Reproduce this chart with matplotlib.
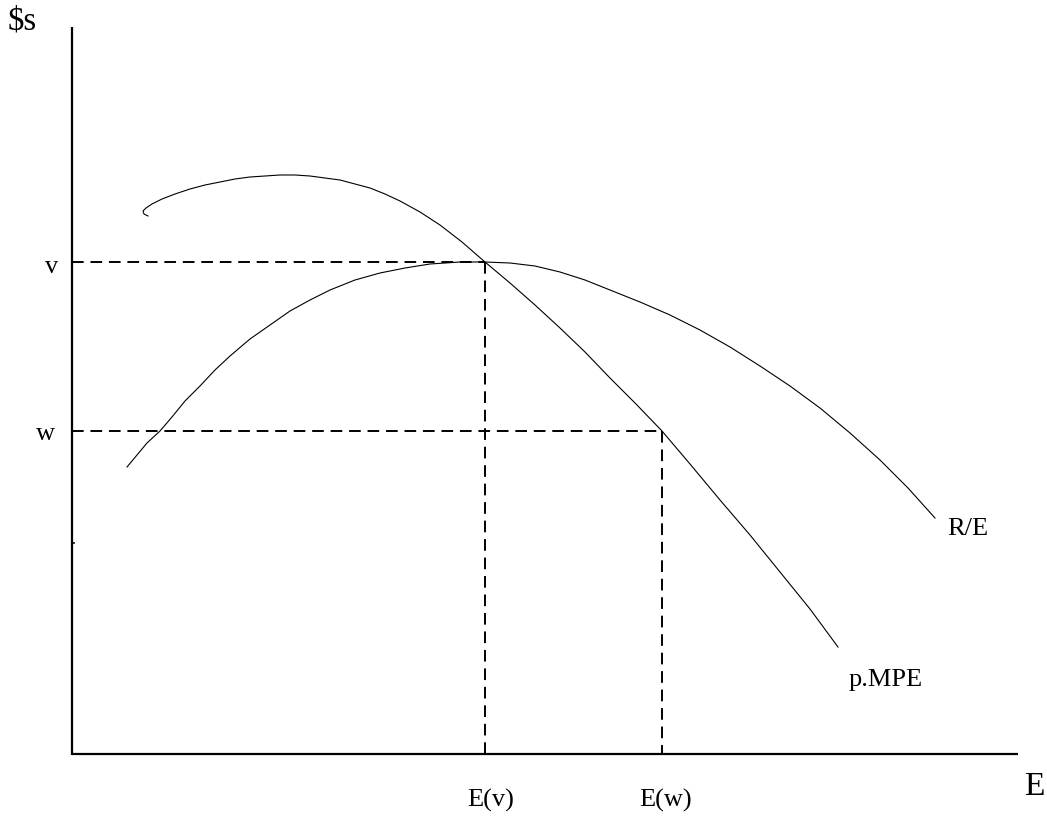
import matplotlib.pyplot as plt

# Points (pixel-like units, y downward)
re_x = [127, 137, 147, 160, 172, 185, 200, 215, 230, 250, 270, 290, 310, 330, 355, 380, 405, 430, 460, 485, 510, 535, 560, 585, 610, 640, 670, 700, 730, 760, 790, 820, 850, 880, 908, 935]
re_y = [467, 455, 443, 431, 417, 401, 386, 370, 356, 339, 325, 311, 300, 290, 280, 273, 268, 264, 262, 262, 263, 266, 272, 280, 290, 302, 315, 330, 347, 366, 386, 408, 433, 460, 488, 518]

mpe_x = [148, 144, 143, 146, 152, 162, 175, 190, 205, 220, 235, 250, 265, 280, 295, 310, 325, 340, 355, 370, 385, 400, 420, 440, 462, 485, 510, 535, 560, 585, 610, 636, 662, 690, 720, 750, 780, 810, 838]
mpe_y = [216, 214, 211, 208, 204, 199, 194, 189, 185, 182, 179, 177, 176, 175, 175, 176, 178, 180, 184, 188, 194, 201, 212, 225, 242, 262, 283, 305, 328, 352, 378, 404, 431, 464, 500, 535, 572, 609, 647]

v_level, w_level = 262, 431
ev_x, ew_x = 485, 662
x0, y0 = 72, 754

fig = plt.figure(figsize=(10.47, 8.17), dpi=100)
ax = fig.add_axes([0, 0, 1, 1])
ax.set_xlim(0, 1047)
ax.set_ylim(817, 0)
ax.axis('off')

serif = ['Liberation Serif', 'DejaVu Serif']

# axes
ax.plot([x0, x0], [27, y0 + 1], color='black', lw=1.6, solid_capstyle='butt')
ax.plot([x0, 1018], [y0, y0], color='black', lw=1.6, solid_capstyle='butt')
ax.plot([x0, x0 + 2], [543, 543], color='black', lw=1.2)

# curves
ax.plot(re_x, re_y, color='black', lw=0.8)
ax.plot(mpe_x, mpe_y, color='black', lw=0.8)

# dashed guides
dash = dict(color='black', lw=1.4, dashes=(6, 3.5))
ax.plot([x0, ev_x], [v_level, v_level], **dash)
ax.plot([ev_x, ev_x], [v_level, y0], **dash)
ax.plot([x0, ew_x], [w_level, w_level], **dash)
ax.plot([ew_x, ew_x], [w_level, y0], **dash)

# labels
ax.text(8, 21, '$s', fontsize=23.5, family=serif, va='center', ha='left')
ax.text(1044, 787, 'E', fontsize=24, family=serif, va='center', ha='right')
ax.text(58, 267, 'v', fontsize=19, family=serif, va='center', ha='right')
ax.text(55, 434, 'w', fontsize=19, family=serif, va='center', ha='right')
ax.text(491, 800, 'E(v)', fontsize=19, family=serif, va='center', ha='center')
ax.text(666, 800, 'E(w)', fontsize=19, family=serif, va='center', ha='center')
ax.text(947, 529, 'R/E', fontsize=19, family=serif, va='center', ha='left')
ax.text(849, 680, 'p.MPE', fontsize=19, family=serif, va='center', ha='left')

fig.savefig('out.png', dpi=100)
